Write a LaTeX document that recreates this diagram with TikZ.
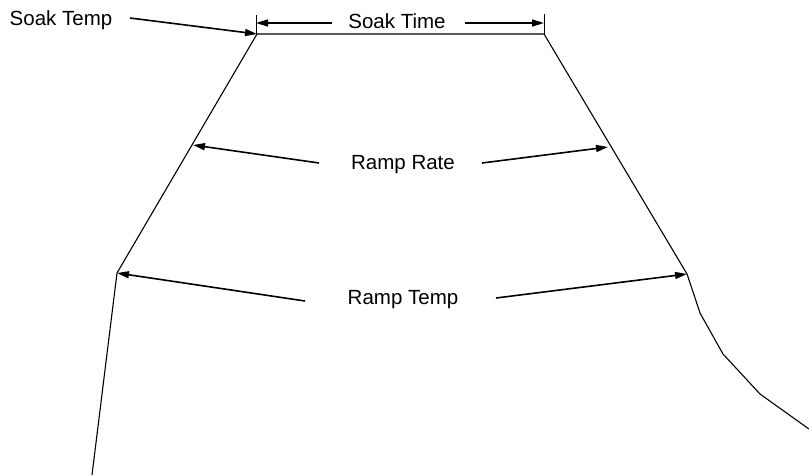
\documentclass[tikz,border=0pt]{standalone}
\usepackage{fontspec}
\setmainfont{Liberation Sans}
\usetikzlibrary{arrows.meta}
\begin{document}
\begin{tikzpicture}[x=1pt,y=-1pt,
  curve/.style={line width=1.1pt,black,line join=miter},
  pointer/.style={line width=1.6pt,-{Triangle[length=12pt,width=7pt]}},
  lbl/.style={font=\fontsize{20.5}{24}\selectfont,inner sep=0pt,anchor=center},
  tick/.style={line width=1pt}]
\useasboundingbox (0,0) rectangle (809,475);
% profile points
\coordinate (p0) at (92,475);
\coordinate (p1) at (117,273);
\coordinate (p2) at (257,34);
\coordinate (p3) at (544,34);
\coordinate (p4) at (687,274);
\coordinate (p5) at (700,313);
\coordinate (p6) at (723,354);
\coordinate (p7) at (760,394);
\coordinate (p8) at (809,429);
\draw[curve] (p0) -- (p1) -- (p2) -- (p3) -- (p4) -- (p5) -- (p6) -- (p7) -- (p8);
% dimension ticks
\coordinate (t1a) at (256,15);
\coordinate (t1b) at (256,34);
\coordinate (t2a) at (544,14);
\coordinate (t2b) at (544,34);
\draw[tick] (t1a) -- (t1b);
\draw[tick] (t2a) -- (t2b);
% labels
\node[lbl] (soaktemp) at (61,20) {Soak Temp};
\node[lbl] (soaktime) at (397,21) {Soak Time};
\node[lbl] (ramprate) at (403,165) {Ramp Rate};
\node[lbl] (ramptemp) at (403,300) {Ramp Temp};
% arrow anchors
\coordinate (st0) at (130,18);
\coordinate (tl0) at (332,23);
\coordinate (tl1) at (256,23);
\coordinate (tr0) at (465,23);
\coordinate (tr1) at (544,23);
\coordinate (rl0) at (319,163);
\coordinate (rl1) at (193,145);
\coordinate (rr0) at (482,163);
\coordinate (rr1) at (608,147);
\coordinate (ml0) at (305,301);
\coordinate (mr0) at (496,298);
\draw[pointer] (st0) -- (p2);
\draw[pointer] (tl0) -- (tl1);
\draw[pointer] (tr0) -- (tr1);
\draw[pointer] (rl0) -- (rl1);
\draw[pointer] (rr0) -- (rr1);
\draw[pointer] (ml0) -- (p1);
\draw[pointer] (mr0) -- (p4);
\end{tikzpicture}
\end{document}
